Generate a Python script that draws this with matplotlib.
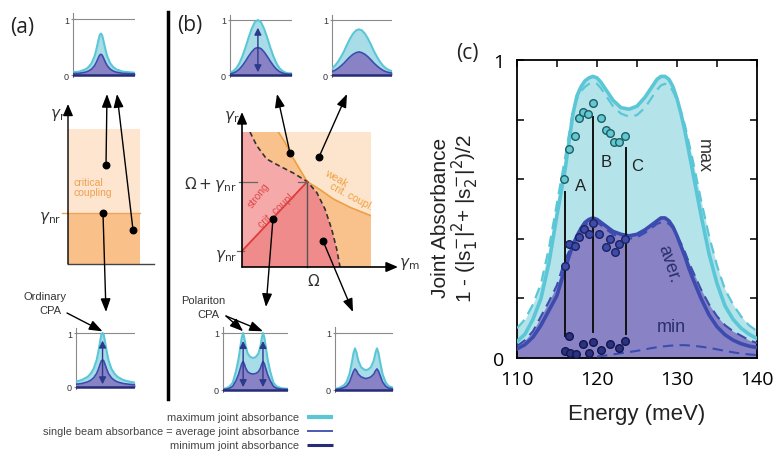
import numpy as np
import matplotlib
matplotlib.use("Agg")
import matplotlib.pyplot as plt

plt.rcParams['font.family'] = ['Liberation Sans', 'DejaVu Sans']
plt.rcParams['mathtext.fontset'] = 'dejavusans'

# ---------------- panel (c) data ----------------
energy = [110, 111, 112, 113, 114, 115, 116, 117, 117.5, 118, 118.5, 119, 119.5, 120, 120.5,
          121, 121.5, 122, 123, 124, 125, 126, 127, 127.5, 128, 128.5, 129, 129.5, 130, 130.5,
          131, 131.5, 132, 133, 134, 135, 136, 137, 138, 139, 140]
max_solid = [.055, .08, .13, .20, .32, .48, .63, .82, .88, .91, .93, .94, .945, .94, .925,
             .905, .885, .865, .84, .835, .845, .875, .915, .935, .945, .945, .935, .91, .87, .82,
             .76, .69, .62, .48, .35, .25, .175, .13, .10, .08, .065]
max_dash = [.10, .13, .18, .25, .37, .52, .67, .83, .87, .895, .91, .92, .925, .92, .905,
            .885, .865, .845, .82, .81, .815, .84, .88, .90, .915, .92, .915, .895, .865, .825,
            .78, .72, .66, .53, .41, .31, .23, .18, .14, .11, .09]
aver_solid = [.03, .045, .07, .11, .16, .21, .30, .38, .41, .435, .455, .465, .47, .465, .455,
              .445, .435, .425, .415, .41, .415, .43, .45, .46, .47, .47, .46, .44, .41, .375,
              .34, .30, .265, .20, .145, .105, .078, .06, .048, .04, .035]
aver_dash = [.04, .06, .09, .14, .19, .245, .33, .385, .41, .43, .445, .455, .46, .455, .445,
             .435, .425, .415, .405, .40, .405, .42, .44, .45, .455, .455, .45, .435, .41, .385,
             .355, .32, .29, .23, .18, .14, .11, .09, .075, .06, .05]
min_energy = [120, 121, 122, 123, 124, 125, 126, 127, 128, 129, 130, 131, 132, 133, 134, 135,
              136, 137, 138, 139, 140]
min_dash = [.005, .008, .012, .016, .02, .024, .029, .034, .038, .041, .043, .043, .041, .038,
            .034, .029, .024, .019, .015, .012, .01]

pts_max_E = [115.9, 116.5, 117.2, 117.7, 118.3, 118.9, 119.5, 120.5, 121.1, 121.6, 122.1, 122.8, 123.5]
pts_max_A = [0.60, 0.70, 0.744, 0.805, 0.824, 0.82, 0.855, 0.804, 0.766, 0.754, 0.724, 0.724, 0.744]
pts_avg_E = [116.0, 116.5, 117.2, 117.8, 118.4, 119.0, 119.5, 120.3, 121.1, 121.6, 122.2, 122.8, 123.5]
pts_avg_A = [0.31, 0.383, 0.377, 0.405, 0.433, 0.416, 0.453, 0.416, 0.371, 0.40, 0.355, 0.383, 0.40]
pts_min_E = [116.0, 116.5, 116.6, 117.4, 118.2, 119.0, 119.5, 120.5, 121.6, 122.8, 123.5]
pts_min_A = [0.022, 0.073, 0.017, 0.013, 0.047, 0.017, 0.053, 0.028, 0.047, 0.033, 0.058]

cut_names = ['A', 'B', 'C']
cut_E = [116.0, 119.46, 123.58]
cut_lo = [0.075, 0.086, 0.08]
cut_hi = [0.558, 0.81, 0.706]
cut_label_E = [117.9, 121.1, 125.0]
cut_label_A = [0.58, 0.659, 0.645]

xtick_vals = [110, 115, 120, 125, 130, 135, 140]
xtick_text = ['110', '', '120', '', '130', '', '140']
ytick_vals = [0, 0.2, 0.4, 0.6, 0.8, 1.0]
ytick_text = ['0', '', '', '', '', '1']

# ---------------- schematic spectra (mini plots) ----------------
a1_x = [0, 1, 2, 2.5, 3, 3.5, 3.8, 4.1, 4.3, 4.5, 4.7, 4.9, 5.2, 5.5, 6, 6.5, 7, 8, 9, 10]
a1_max = [.05, .06, .10, .14, .21, .34, .47, .62, .71, .74, .71, .62, .47, .34, .21, .14, .10, .06, .05, .04]
a1_avg = [.025, .03, .05, .07, .105, .17, .235, .31, .355, .37, .355, .31, .235, .17, .105, .07, .05, .03, .025, .02]
a2_max = [.10, .13, .19, .25, .34, .50, .66, .85, .97, 1.0, .97, .85, .66, .50, .34, .25, .19, .13, .10, .08]
a2_avg = [.05, .065, .095, .125, .17, .25, .33, .425, .485, .5, .485, .425, .33, .25, .17, .125, .095, .065, .05, .04]

b_x = [0, .5, 1, 1.5, 2, 2.5, 3, 3.5, 4, 4.5, 5, 5.5, 6, 6.5, 7, 7.5, 8, 8.5, 9, 9.5, 10]
b1_max = [.04, .07, .12, .21, .34, .50, .68, .84, .96, 1.0, .96, .84, .68, .50, .34, .21, .12, .07, .04, .03, .03]
b1_avg = [.02, .035, .06, .105, .17, .25, .34, .42, .48, .50, .48, .42, .34, .25, .17, .105, .06, .035, .02, .015, .015]
b2_max = [.12, .17, .24, .33, .43, .55, .66, .75, .81, .83, .81, .75, .66, .55, .43, .33, .24, .17, .12, .09, .07]
b2_avg = [.06, .085, .12, .165, .215, .275, .33, .375, .405, .42, .405, .375, .33, .275, .215, .165, .12, .085, .06, .045, .035]

b3_x = [0, .5, 1.0, 1.5, 2.0, 2.4, 2.7, 2.9, 3.1, 3.3, 3.5, 3.8, 4.2, 4.62, 5.05, 5.45, 5.75, 5.95,
        6.15, 6.35, 6.55, 6.85, 7.25, 7.75, 8.25, 9.0, 10.0]
b3_max = [.02, .03, .06, .13, .33, .55, .78, .93, 1.0, .90, .76, .64, .58, .56, .58, .64, .76, .90,
          1.0, .93, .78, .55, .33, .13, .06, .03, .02]
b3_avg = [.01, .015, .03, .065, .165, .275, .39, .465, .50, .45, .38, .32, .29, .28, .29, .32, .38, .45,
          .50, .465, .39, .275, .165, .065, .03, .015, .01]
b4_x = [0, .5, 1.0, 1.5, 2.0, 2.5, 2.9, 3.2, 3.45, 3.7, 4.0, 4.5, 5.0, 5.35, 5.7, 6.2, 6.7, 7.0,
        7.24, 7.5, 7.8, 8.2, 8.7, 9.2, 10]
b4_max = [.02, .03, .05, .08, .14, .28, .48, .65, .73, .66, .52, .40, .36, .35, .36, .40, .52, .66,
          .73, .65, .48, .28, .14, .07, .04]
b4_avg = [.01, .015, .025, .04, .07, .14, .25, .33, .37, .34, .28, .23, .21, .20, .21, .23, .28, .34,
          .37, .33, .25, .14, .07, .035, .02]
mini_min = 0.0

# ---------------- phase diagrams ----------------
a_gamma_nr = 0.378
a_dots_x = [0.528, 0.486, 0.903]
a_dots_y = [0.733, 0.378, 0.252]

b_omega = 0.506
b_gamma_nr = 0.119
b_omega_gnr = 0.632
b_dash_x = [0.062, 0.114, 0.191, 0.295, 0.398, 0.506, 0.579, 0.643, 0.695, 0.734, 0.76]
b_dash_y = [1.0, 0.899, 0.80, 0.746, 0.696, 0.632, 0.553, 0.43, 0.281, 0.133, 0.0]
b_weak_x = [0.282, 0.333, 0.385, 0.45, 0.506, 0.605, 0.708, 0.837, 1.0]
b_weak_y = [1.0, 0.924, 0.825, 0.72, 0.632, 0.573, 0.504, 0.442, 0.38]
b_dots_x = [0.372, 0.597, 0.240, 0.628]
b_dots_y = [0.844, 0.815, 0.356, 0.193]

# ---------------- colours ----------------
CYAN = '#5bc7d6'
CYAN_FILL_C = '#b4e3ea'
CYAN_FILL_MINI = '#a8dde7'
PURPLE = '#8983c6'
AVER = '#3b4cae'
NAVY = '#252c78'
GRAY = '#8a8a8a'
TXT = '#333333'

W, H = 776, 452
fig = plt.figure(figsize=(W / 100, H / 100), dpi=100)
fig.patch.set_facecolor('white')


def px_axes(l, t, r, b, **kw):
    return fig.add_axes([l / W, 1 - b / H, (r - l) / W, (b - t) / H], **kw)


def to_px(ax, x, y):
    X, Y = ax.transData.transform((x, y))
    return X, H - Y


# ================= panel (c) =================
axc = px_axes(517, 61, 757, 359)
axc.set_xlim(110, 140)
axc.set_ylim(0, 1)
top_c = np.maximum(max_solid, max_dash)
axc.fill_between(energy, 0, top_c, color=CYAN_FILL_C, lw=0, zorder=1)
axc.fill_between(energy, 0, np.maximum(aver_solid, aver_dash), color=PURPLE, lw=0, zorder=2)
axc.plot(energy, max_dash, color=CYAN, lw=1.6, dashes=(5, 3), zorder=3)
axc.plot(energy, max_solid, color=CYAN, lw=2.6, zorder=3)
axc.plot(energy, aver_dash, color=AVER, lw=1.5, dashes=(5, 3), zorder=3)
axc.plot(energy, aver_solid, color=AVER, lw=2.6, zorder=3)
axc.plot(min_energy, min_dash, color=AVER, lw=1.5, dashes=(5, 3), zorder=3)
for e, lo, hi in zip(cut_E, cut_lo, cut_hi):
    axc.plot([e, e], [lo, hi], color='#111111', lw=1.4, zorder=4)
for name, e, a in zip(cut_names, cut_label_E, cut_label_A):
    axc.text(e, a, name, fontsize=12, color='#222222', ha='center', va='center', zorder=6)
axc.scatter(pts_max_E, pts_max_A, s=30, facecolor='#62c8d2', edgecolor='#1f5d63', lw=1.0, zorder=5)
axc.scatter(pts_avg_E, pts_avg_A, s=30, facecolor='#3d4ca8', edgecolor='#1b2160', lw=1.0, zorder=5)
axc.scatter(pts_min_E, pts_min_A, s=30, facecolor='#2b3282', edgecolor='#12164a', lw=1.0, zorder=5)
axc.text(133.3, 0.68, 'max', rotation=-90, fontsize=13, color='#333333', ha='center', va='center', zorder=6)
axc.text(128.9, 0.32, 'aver.', rotation=-72, fontsize=13, color='#2b2f6e', ha='center', va='center', zorder=6)
axc.text(129.3, 0.105, 'min', fontsize=13, color='#2b2f6e', ha='center', va='center', zorder=6)
axc.set_xticks(xtick_vals)
axc.set_xticklabels(xtick_text)
axc.set_yticks(ytick_vals)
axc.set_yticklabels(ytick_text)
axc.tick_params(direction='in', top=True, right=True, length=5, width=1.1, labelsize=14, pad=9)
for lab in axc.get_xticklabels() + axc.get_yticklabels():
    lab.set_fontfamily('Open Sans')
for sp in axc.spines.values():
    sp.set_linewidth(1.3)
fig.text(440 / W, 1 - 218 / H, 'Joint Absorbance', rotation=90, fontsize=15, ha='center', va='center', color='#222222')
fig.text(465 / W, 1 - 218 / H, '1 - (|s$_1^{-}$|$^2$+ |s$_2^{-}$|$^2$)/2', rotation=90, fontsize=15,
         ha='center', va='center', color='#222222')
fig.text(637 / W, 1 - 415 / H, 'Energy (meV)', fontsize=16, ha='center', va='center', color='#222222')
fig.text(467 / W, 1 - 53 / H, '(c)', fontsize=15, ha='center', va='center', family='Open Sans', color='#222222')

# ================= mini plots =================
def mini(l, r, y1px, y0px, x, ymax, yavg, arrows=False):
    ylo, yhi = -0.03, 1.1
    unit = y0px - y1px
    top = y0px - yhi * unit
    bot = y0px - ylo * unit
    ax = px_axes(l, top, r, bot)
    ax.set_xlim(0, 10)
    ax.set_ylim(ylo, yhi)
    ax.patch.set_alpha(0)
    ax.fill_between(x, 0, ymax, color=CYAN_FILL_MINI, lw=0, zorder=1)
    ax.fill_between(x, 0, yavg, color=PURPLE, lw=0, zorder=2)
    ax.plot(x, ymax, color=CYAN, lw=1.5, zorder=3)
    ax.plot(x, yavg, color=AVER, lw=1.2, zorder=3)
    ax.axhline(mini_min, color=NAVY, lw=1.8, zorder=4)
    ax.axhline(1, color=GRAY, lw=0.8, zorder=0)
    for s in ['top', 'right', 'bottom']:
        ax.spines[s].set_visible(False)
    ax.spines['left'].set_color(GRAY)
    ax.spines['left'].set_linewidth(0.8)
    ax.set_xticks([])
    ax.set_yticks([0, 1])
    ax.set_yticklabels(['0', '1'])
    ax.tick_params(axis='y', direction='inout', length=3, width=0.8, color=GRAY, labelsize=6.5,
                   pad=1.5, labelcolor=TXT)
    if arrows:
        ya = np.asarray(yavg)
        for i in range(1, len(ya) - 1):
            if ya[i] >= ya[i - 1] and ya[i] > ya[i + 1]:
                for ytip in (0.86, 0.05):
                    ax.annotate('', xy=(x[i], ytip), xytext=(x[i], ya[i]),
                                arrowprops=dict(arrowstyle='-|>,head_length=0.6,head_width=0.3',
                                                color='#2d3a8c', lw=1.0, shrinkA=0, shrinkB=0,
                                                mutation_scale=7), zorder=5)
    return ax

ax_a1 = mini(73, 135, 20, 76, a1_x, a1_max, a1_avg)
ax_a2 = mini(76, 135, 334, 388, a1_x, a2_max, a2_avg, arrows=True)
ax_b1 = mini(230, 292, 21, 76, b_x, b1_max, b1_avg, arrows=True)
ax_b2 = mini(332, 392, 21, 76, b_x, b2_max, b2_avg)
ax_b3 = mini(223, 288, 334, 391, b3_x, b3_max, b3_avg, arrows=True)
ax_b4 = mini(335, 393, 334, 391, b4_x, b4_max, b4_avg)

# ================= phase diagram (a) =================
axa = px_axes(68, 130, 140, 265)
axa.set_xlim(0, 1)
axa.set_ylim(0, 1)
axa.axis('off')
axa.fill([0, 1, 1, 0], [a_gamma_nr, a_gamma_nr, 1, 1], color='#fde5cf', lw=0, zorder=1)
axa.fill([0, 1, 1, 0], [0, 0, a_gamma_nr, a_gamma_nr], color='#fac08a', lw=0, zorder=1)
axa.plot([-0.083, 1], [a_gamma_nr, a_gamma_nr], color='#eea35a', lw=1.0, zorder=2, clip_on=False)
axa.plot([0, 1.19], [0, 0], color='#444444', lw=1.0, zorder=3, clip_on=False)
axa.annotate('', xy=(0, 1.185), xytext=(0, 0), xycoords='data',
             arrowprops=dict(arrowstyle='-|>,head_length=0.7,head_width=0.3', color='black', lw=1.0,
                             shrinkA=0, shrinkB=0, mutation_scale=10), annotation_clip=False, zorder=3)
axa.scatter(a_dots_x, a_dots_y, s=22, color='black', zorder=6, clip_on=False)
axa.text(0.07, 0.57, 'critical\ncoupling', fontsize=7.5, color='#f0a050', ha='left', va='center',
         linespacing=1.1, zorder=4)
axa.text(-0.04, 1.11, r'$\gamma_\mathrm{r}$', fontsize=11, color=TXT, ha='right', va='center')
axa.text(-0.09, 0.35, r'$\gamma_\mathrm{nr}$', fontsize=11, color=TXT, ha='right', va='center')

# ================= phase diagram (b) =================
axb = px_axes(242, 133, 371, 268)
axb.set_xlim(0, 1)
axb.set_ylim(0, 1)
axb.axis('off')
axb.fill([0, 1, 1, 0], [0, 0, 1, 1], color='#f9c28c', lw=0, zorder=1)
axb.fill(b_weak_x + [1.0], b_weak_y + [1.0], color='#fde4cc', lw=0, zorder=1)
axb.fill([0] + b_dash_x + [0], [1] + b_dash_y + [0], color='#f08b8b', lw=0, zorder=2)
k = b_dash_x.index(b_omega)
axb.fill([0, 0] + b_dash_x[:k + 1], [b_gamma_nr, 1] + b_dash_y[:k + 1], color='#f6a9a9', lw=0, zorder=2)
axb.plot(b_weak_x, b_weak_y, color='#eea040', lw=1.2, zorder=3)
axb.plot(b_dash_x, b_dash_y, color='#333333', lw=1.2, dashes=(3, 2), zorder=3)
axb.plot([0, b_omega], [b_gamma_nr, b_omega_gnr], color='#e03a3a', lw=1.3, zorder=3)
axb.plot([b_omega, b_omega], [0, b_omega_gnr], color='#555555', lw=1.0, zorder=3, clip_on=False)
axb.plot([0.434, b_omega], [b_omega_gnr, b_omega_gnr], color='#666666', lw=0.9, zorder=3)
axb.plot([-0.023, 0.116], [b_omega_gnr, b_omega_gnr], color='#666666', lw=0.9, zorder=3, clip_on=False)
axb.plot([-0.04, 0.015], [b_gamma_nr, b_gamma_nr], color='#666666', lw=0.9, zorder=3, clip_on=False)
arrow_kw = dict(arrowstyle='-|>,head_length=0.7,head_width=0.3', color='black', lw=1.2,
                shrinkA=0, shrinkB=0, mutation_scale=10)
axb.annotate('', xy=(0, 1.148), xytext=(0, 0), arrowprops=arrow_kw, annotation_clip=False, zorder=4)
axb.annotate('', xy=(1.209, 0), xytext=(0, 0), arrowprops=arrow_kw, annotation_clip=False, zorder=4)
axb.scatter(b_dots_x, b_dots_y, s=22, color='black', zorder=6)
axb.text(0.127, 0.533, 'strong', rotation=52, fontsize=7.5, color='#e04848', ha='center', va='center', zorder=5)
axb.text(0.269, 0.425, 'crit. coupl.', rotation=43, fontsize=7.5, color='#e04848', ha='center', va='center', zorder=5)
axb.text(0.729, 0.664, 'weak', rotation=-30, fontsize=7.5, color='#f0a040', ha='center', va='center', zorder=5)
axb.text(0.85, 0.528, 'crit. coupl.', rotation=-28, fontsize=7.5, color='#f0a040', ha='center', va='center', zorder=5)
axb.text(-0.04, 0.615, r'$\Omega + \gamma_\mathrm{nr}$', fontsize=11, color=TXT, ha='right', va='center')
axb.text(-0.04, 0.09, r'$\gamma_\mathrm{nr}$', fontsize=11, color=TXT, ha='right', va='center')
axb.text(-0.02, 1.12, r'$\gamma_\mathrm{r}$', fontsize=11, color=TXT, ha='right', va='center')
axb.text(1.22, 0.03, r'$\gamma_\mathrm{m}$', fontsize=11, color=TXT, ha='left', va='center')
axb.text(0.558, -0.095, r'$\Omega$', fontsize=11, color=TXT, ha='center', va='center')

# ================= overlay: arrows, labels, legend =================
ov = fig.add_axes([0, 0, 1, 1], zorder=20)
ov.set_xlim(0, W)
ov.set_ylim(H, 0)
ov.axis('off')
ov.patch.set_alpha(0)


def arrow(p0, p1, lw=1.0):
    ov.annotate('', xy=p1, xytext=p0,
                arrowprops=dict(arrowstyle='-|>,head_length=0.8,head_width=0.3', color='black', lw=lw,
                                shrinkA=0, shrinkB=0, mutation_scale=10))

a_tips = [(107, 95), (106, 313), (117, 95)]
for xd, yd, tip in zip(a_dots_x, a_dots_y, a_tips):
    arrow(to_px(axa, xd, yd), tip)
b_tips = [(277, 95), (347, 95), (266, 308), (353, 313)]
for xd, yd, tip in zip(b_dots_x, b_dots_y, b_tips):
    arrow(to_px(axb, xd, yd), tip)

# CPA annotations pointing at the peaks of the schematic spectra
ov.text(45, 297, 'Ordinary', fontsize=8, color=TXT, ha='center', va='center')
ov.text(50, 311, 'CPA', fontsize=8, color=TXT, ha='center', va='center')
ia = int(np.argmax(a2_max))
arrow((67, 314), to_px(ax_a2, a1_x[ia], 1.03), lw=1.0)
ov.text(203, 301, 'Polariton', fontsize=8, color=TXT, ha='center', va='center')
ov.text(208, 315, 'CPA', fontsize=8, color=TXT, ha='center', va='center')
b3m = np.asarray(b3_max)
for i in range(1, len(b3m) - 1):
    if b3m[i] >= b3m[i - 1] and b3m[i] > b3m[i + 1]:
        arrow((226, 317), to_px(ax_b3, b3_x[i], 1.03), lw=1.0)

# separator and panel labels
ov.plot([168, 168], [13, 400], color='black', lw=2.5)
ov.text(22, 28, '(a)', fontsize=15, family='Open Sans', color='#222222', ha='center', va='center')
ov.text(190, 26, '(b)', fontsize=15, family='Open Sans', color='#222222', ha='center', va='center')

# legend
leg_text = ['maximum joint absorbance', 'single beam absorbance = average joint absorbance',
            'minimum joint absorbance']
leg_color = [CYAN, AVER, NAVY]
leg_lw = [3.0, 1.3, 2.2]
for j, (t, c, lw) in enumerate(zip(leg_text, leg_color, leg_lw)):
    yy = 418 + 14 * j
    ov.text(299, yy, t, fontsize=7.9, color='#444444', ha='right', va='center')
    ov.plot([307, 333], [yy, yy], color=c, lw=lw, solid_capstyle='butt')

fig.savefig('out.png', dpi=100, facecolor='white')
